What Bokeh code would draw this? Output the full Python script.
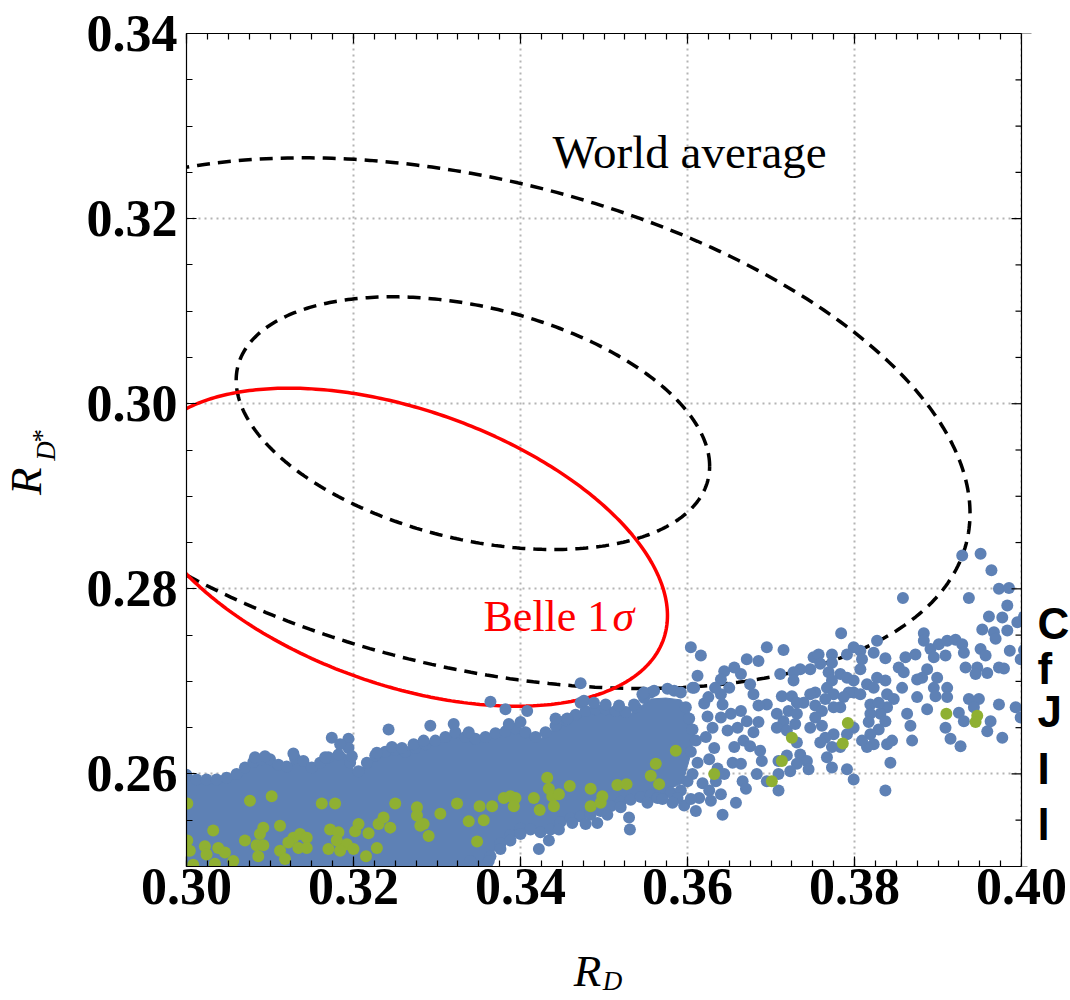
import numpy as np
from bokeh.plotting import figure
from bokeh.models import (Range1d, SingleIntervalTicker, PrintfTickFormatter, LinearAxis, Label,
                          BoxAnnotation, Span)
from bokeh.layouts import row, column
from bokeh.embed import file_html
from bokeh.resources import INLINE

# ---------------- data ----------------
x_lim = (0.30, 0.40)
y_lim = (0.25, 0.34)
x_major, x_minor_n = 0.02, 8
y_major, y_minor_n = 0.02, 4
y_major_ticks = [0.26, 0.28, 0.30, 0.32, 0.34]

# World average contours: centre, widths, correlation, contour scale factors
wa_center = (0.3343, 0.2979)
wa_sigma = (0.02835, 0.01365)
wa_rho = -0.34
wa_levels = [1.0, 2.1]

# Belle 1 sigma contour
belle_center = (0.3259, 0.2845)
belle_sigma = (0.0317, 0.01718)
belle_rho = -0.43
belle_level = 1.0

# saturated core of the blue scan points (envelope of overlapping points)
core_outline = [
    (0.2990, 0.2598), (0.3017, 0.2593), (0.3041, 0.2593), (0.3065, 0.2603), (0.3083, 0.2615),
    (0.3101, 0.2615), (0.3116, 0.2605), (0.3131, 0.2616), (0.3152, 0.2605), (0.3172, 0.2618),
    (0.3190, 0.2622), (0.3202, 0.2600), (0.3224, 0.2618), (0.3248, 0.2626), (0.3272, 0.2627),
    (0.3304, 0.2637), (0.3322, 0.2646), (0.3340, 0.2638), (0.3372, 0.2643), (0.3400, 0.2649),
    (0.3424, 0.2638), (0.3448, 0.2654), (0.3472, 0.2666), (0.3499, 0.2669), (0.3532, 0.2665),
    (0.3556, 0.2681), (0.3574, 0.2682), (0.3592, 0.2680), (0.3604, 0.2664), (0.3608, 0.2640),
    (0.3602, 0.2615), (0.3594, 0.2590),
    (0.3568, 0.2580), (0.3552, 0.2575), (0.3520, 0.2570),
    (0.3504, 0.2564), (0.3478, 0.2554), (0.3448, 0.2549), (0.3434, 0.2536), (0.3400, 0.2542),
    (0.3388, 0.2534), (0.3376, 0.2525), (0.3364, 0.2511), (0.3352, 0.2493), (0.2990, 0.2493),
]

blue_edge = [
    (0.3000, 0.2599), (0.3012, 0.2594), (0.3024, 0.2594), (0.3036, 0.2594), (0.3048, 0.2596),
    (0.3060, 0.2600), (0.3070, 0.2607), (0.3080, 0.2613), (0.3090, 0.2616), (0.3100, 0.2616),
    (0.3110, 0.2610), (0.3120, 0.2608), (0.3130, 0.2617), (0.3140, 0.2614), (0.3150, 0.2607),
    (0.3160, 0.2612), (0.3170, 0.2618), (0.3182, 0.2621), (0.3196, 0.2612), (0.3206, 0.2603),
    (0.3216, 0.2612), (0.3226, 0.2620), (0.3238, 0.2624), (0.3250, 0.2626), (0.3262, 0.2624),
    (0.3274, 0.2628), (0.3286, 0.2632), (0.3298, 0.2636), (0.3310, 0.2640), (0.3322, 0.2645),
    (0.3334, 0.2640), (0.3346, 0.2638), (0.3358, 0.2640), (0.3370, 0.2644), (0.3382, 0.2646),
    (0.3394, 0.2649), (0.3406, 0.2645), (0.3418, 0.2640), (0.3430, 0.2645), (0.3442, 0.2652),
    (0.3454, 0.2658), (0.3466, 0.2664), (0.3478, 0.2668), (0.3490, 0.2670), (0.3502, 0.2670),
    (0.3514, 0.2668), (0.3526, 0.2667), (0.3538, 0.2672), (0.3548, 0.2682),
    (0.3352, 0.2500), (0.3364, 0.2511), (0.3376, 0.2525), (0.3388, 0.2534), (0.3400, 0.2541),
    (0.3412, 0.2540), (0.3424, 0.2537), (0.3436, 0.2540), (0.3448, 0.2548), (0.3460, 0.2552),
    (0.3472, 0.2554), (0.3484, 0.2556), (0.3496, 0.2560), (0.3508, 0.2565), (0.3520, 0.2570),
    (0.3532, 0.2572), (0.3544, 0.2575), (0.3556, 0.2577), (0.3568, 0.2580), (0.3580, 0.2580),
    (0.3592, 0.2582), (0.3598, 0.2672), (0.3602, 0.2660), (0.3606, 0.2648), (0.3610, 0.2636),
    (0.3604, 0.2624), (0.3612, 0.2612), (0.3606, 0.2600), (0.3618, 0.2590), (0.3600, 0.2592),
    (0.3620, 0.2676), (0.3624, 0.2662), (0.3630, 0.2650), (0.3622, 0.2640), (0.3632, 0.2628),
    (0.3626, 0.2616), (0.3636, 0.2606), (0.3614, 0.2574), (0.3626, 0.2582), (0.3596, 0.2566),
    (0.3610, 0.2560), (0.3588, 0.2574),
]

blue_upper = [
    (0.3174, 0.2639), (0.3194, 0.2638), (0.3194, 0.2628), (0.3242, 0.2648), (0.3246, 0.2629),
    (0.3082, 0.2618), (0.3094, 0.2619), (0.3128, 0.2622), (0.3166, 0.2618), (0.3184, 0.2632),
    (0.3198, 0.2619), (0.3228, 0.2623), (0.3258, 0.2628), (0.3272, 0.2632), (0.3284, 0.2636),
    (0.3292, 0.2652), (0.3320, 0.2654), (0.3338, 0.2645), (0.3364, 0.2678), (0.3382, 0.2670),
    (0.3408, 0.2668), (0.3400, 0.2656), (0.3386, 0.2654), (0.3442, 0.2660), (0.3456, 0.2660),
    (0.3472, 0.2677), (0.3476, 0.2679), (0.3488, 0.2677), (0.3502, 0.2675), (0.3518, 0.2674),
    (0.3536, 0.2675), (0.3546, 0.2686), (0.3556, 0.2688), (0.3472, 0.2698), (0.3548, 0.2688),
    (0.3560, 0.2690), (0.3576, 0.2692), (0.3584, 0.2690), (0.3592, 0.2688), (0.3608, 0.2693),
]

blue_lower = [
    (0.3340, 0.2506), (0.3362, 0.2506), (0.3376, 0.2519), (0.3422, 0.2519), (0.3434, 0.2528),
    (0.3446, 0.2540), (0.3462, 0.2547), (0.3478, 0.2546), (0.3492, 0.2547), (0.3504, 0.2556),
    (0.3530, 0.2553), (0.3531, 0.2540), (0.3520, 0.2564), (0.3552, 0.2569), (0.3564, 0.2574),
    (0.3400, 0.2535), (0.3388, 0.2528),
]

blue_tail = [
    (0.3784, 0.2752), (0.3858, 0.2790), (0.3929, 0.2836), (0.3951, 0.2838), (0.3964, 0.2820),
    (0.3973, 0.2800), (0.3985, 0.2801), (0.3937, 0.2790), (0.3983, 0.2782), (0.3961, 0.2770),
    (0.3977, 0.2769), (0.3995, 0.2764), (0.3953, 0.2756), (0.3967, 0.2753), (0.3983, 0.2755),
    (0.3969, 0.2746), (0.3986, 0.2733), (0.3951, 0.2735), (0.3957, 0.2728), (0.3999, 0.2724),
    (0.3933, 0.2715), (0.3947, 0.2715), (0.3973, 0.2715), (0.3979, 0.2714), (0.3945, 0.2708),
    (0.3959, 0.2709), (0.3883, 0.2752), (0.3883, 0.2744), (0.3891, 0.2735), (0.3901, 0.2740),
    (0.3911, 0.2744), (0.3921, 0.2745), (0.3929, 0.2740), (0.3931, 0.2731), (0.3909, 0.2728),
    (0.3895, 0.2726), (0.3887, 0.2713), (0.3881, 0.2704), (0.3899, 0.2704), (0.3895, 0.2693),
    (0.3911, 0.2693), (0.3875, 0.2683), (0.3897, 0.2684), (0.3911, 0.2683), (0.3887, 0.2670),
    (0.3937, 0.2681), (0.3949, 0.2681), (0.3943, 0.2672), (0.3973, 0.2675), (0.3993, 0.2672),
    (0.3925, 0.2666), (0.3931, 0.2657), (0.3963, 0.2657), (0.3999, 0.2661), (0.3909, 0.2650),
    (0.3915, 0.2638), (0.3927, 0.2630), (0.3959, 0.2646), (0.3977, 0.2639), (0.3861, 0.2726),
    (0.3873, 0.2729), (0.3853, 0.2715), (0.3859, 0.2710), (0.3875, 0.2702), (0.3857, 0.2693),
    (0.3863, 0.2665), (0.3867, 0.2652), (0.3869, 0.2636), (0.3837, 0.2701), (0.3839, 0.2686),
    (0.3847, 0.2681), (0.3839, 0.2672), (0.3831, 0.2665), (0.3837, 0.2657), (0.3829, 0.2648),
    (0.3819, 0.2643), (0.3823, 0.2632), (0.3839, 0.2632), (0.3845, 0.2636), (0.3843, 0.2612),
    (0.3837, 0.2582), (0.3827, 0.2744), (0.3823, 0.2731), (0.3837, 0.2725), (0.3827, 0.2704),
    (0.3815, 0.2697), (0.3823, 0.2693), (0.3819, 0.2675), (0.3829, 0.2677), (0.3819, 0.2665),
    (0.3817, 0.2656), (0.3815, 0.2629), (0.3809, 0.2636), (0.3807, 0.2733), (0.3799, 0.2737),
    (0.3791, 0.2729), (0.3809, 0.2724), (0.3807, 0.2713), (0.3783, 0.2708), (0.3791, 0.2704),
    (0.3799, 0.2701), (0.3799, 0.2688), (0.3793, 0.2688), (0.3807, 0.2686), (0.3787, 0.2683),
    (0.3783, 0.2672), (0.3775, 0.2672), (0.3799, 0.2650), (0.3791, 0.2643), (0.3775, 0.2643),
    (0.3783, 0.2629), (0.3773, 0.2629), (0.3767, 0.2618), (0.3773, 0.2607), (0.3791, 0.2605),
    (0.3799, 0.2594), (0.3751, 0.2726), (0.3757, 0.2729), (0.3747, 0.2713), (0.3759, 0.2719),
    (0.3773, 0.2729), (0.3773, 0.2720), (0.3769, 0.2710), (0.3773, 0.2701), (0.3767, 0.2693),
    (0.3775, 0.2686), (0.3765, 0.2681), (0.3753, 0.2688), (0.3747, 0.2686), (0.3739, 0.2677),
    (0.3753, 0.2674), (0.3761, 0.2668), (0.3753, 0.2661), (0.3761, 0.2652), (0.3747, 0.2650),
    (0.3765, 0.2639), (0.3759, 0.2634), (0.3735, 0.2713), (0.3727, 0.2710), (0.3727, 0.2701),
    (0.3711, 0.2708), (0.3713, 0.2684), (0.3725, 0.2684), (0.3731, 0.2677), (0.3721, 0.2668),
    (0.3731, 0.2665), (0.3715, 0.2657), (0.3707, 0.2650), (0.3719, 0.2647), (0.3729, 0.2654),
    (0.3731, 0.2634), (0.3735, 0.2621), (0.3743, 0.2614), (0.3731, 0.2611), (0.3745, 0.2605),
    (0.3719, 0.2620), (0.3709, 0.2614), (0.3709, 0.2600), (0.3723, 0.2603), (0.3695, 0.2737),
    (0.3715, 0.2734), (0.3709, 0.2582), (0.3695, 0.2592), (0.3683, 0.2600), (0.3689, 0.2614),
    (0.3671, 0.2724), (0.3685, 0.2722), (0.3664, 0.2708), (0.3656, 0.2715), (0.3644, 0.2711),
    (0.3640, 0.2702), (0.3650, 0.2693), (0.3640, 0.2686), (0.3675, 0.2697), (0.3679, 0.2686),
    (0.3695, 0.2675), (0.3685, 0.2674), (0.3707, 0.2665), (0.3664, 0.2668), (0.3652, 0.2665),
    (0.3642, 0.2675), (0.3640, 0.2661), (0.3671, 0.2657), (0.3685, 0.2656), (0.3660, 0.2650),
    (0.3648, 0.2647), (0.3679, 0.2645), (0.3667, 0.2636), (0.3656, 0.2629), (0.3675, 0.2630),
    (0.3687, 0.2625), (0.3654, 0.2612), (0.3664, 0.2611), (0.3666, 0.2592), (0.3644, 0.2600),
    (0.3634, 0.2592), (0.3670, 0.2584), (0.3640, 0.2578), (0.3658, 0.2569), (0.3642, 0.2556),
    (0.3628, 0.2571), (0.3604, 0.2573), (0.3582, 0.2569), (0.3570, 0.2573), (0.3604, 0.2737),
    (0.3616, 0.2728), (0.3612, 0.2706), (0.3606, 0.2693), (0.3625, 0.2683), (0.3633, 0.2693),
    (0.4003, 0.2770), (0.4003, 0.2734), (0.4005, 0.2671),
]

green_pts = [
    (0.3001, 0.2568), (0.3076, 0.2571), (0.3102, 0.2576), (0.3162, 0.2568), (0.3178, 0.2568),
    (0.3250, 0.2568), (0.3276, 0.2564), (0.3032, 0.2539), (0.3070, 0.2528), (0.3088, 0.2535),
    (0.3092, 0.2542), (0.3112, 0.2544), (0.3084, 0.2523), (0.3092, 0.2523), (0.3086, 0.2511),
    (0.3128, 0.2531), (0.3136, 0.2535), (0.3144, 0.2531), (0.3122, 0.2526), (0.3134, 0.2520),
    (0.3144, 0.2520), (0.3112, 0.2517), (0.3118, 0.2508), (0.3172, 0.2540), (0.3182, 0.2537),
    (0.3180, 0.2528), (0.3192, 0.2524), (0.3170, 0.2519), (0.3184, 0.2517), (0.3200, 0.2519),
    (0.3202, 0.2538), (0.3206, 0.2546), (0.3218, 0.2536), (0.3230, 0.2546), (0.3236, 0.2553),
    (0.3244, 0.2542), (0.3228, 0.2520), (0.3215, 0.2511), (0.3276, 0.2555), (0.3280, 0.2544),
    (0.3004, 0.2517), (0.3022, 0.2522), (0.3024, 0.2513), (0.3038, 0.2520), (0.3046, 0.2515),
    (0.3034, 0.2503), (0.3056, 0.2506), (0.3008, 0.2502), (0.3001, 0.2528), (0.3284, 0.2546),
    (0.3290, 0.2533), (0.3304, 0.2557), (0.3324, 0.2568), (0.3338, 0.2549), (0.3351, 0.2565),
    (0.3356, 0.2550), (0.3366, 0.2565), (0.3348, 0.2527), (0.3380, 0.2574), (0.3388, 0.2576),
    (0.3394, 0.2574), (0.3392, 0.2565), (0.3416, 0.2574), (0.3423, 0.2561), (0.3432, 0.2596),
    (0.3434, 0.2584), (0.3438, 0.2576), (0.3446, 0.2578), (0.3440, 0.2565), (0.3459, 0.2587),
    (0.3484, 0.2584), (0.3484, 0.2565), (0.3496, 0.2569), (0.3498, 0.2576), (0.3516, 0.2588),
    (0.3527, 0.2589), (0.3556, 0.2598), (0.3562, 0.2611), (0.3566, 0.2589), (0.3586, 0.2625),
    (0.3632, 0.2600), (0.3701, 0.2592), (0.3713, 0.2614), (0.3725, 0.2639), (0.3786, 0.2633),
    (0.3792, 0.2655), (0.3910, 0.2665), (0.3947, 0.2663), (0.3945, 0.2656),
]

# first letters of a neighbouring text at the right edge of the picture
edge_letters = ["C", "f", "J", "I", "l"]
edge_letter_y = [0.27622, 0.27135, 0.26670, 0.26054, 0.25459]

# ---------------- styling ----------------
BLUE = "#5e81b5"
GREEN = "#8fb032"
SERIF = "Liberation Serif"

FRAME_W, FRAME_H = 835, 833
RIGHT_PAD = 49                      # picture continues 49 px right of the frame
px_per_x = FRAME_W / (x_lim[1] - x_lim[0])
x_view_end = x_lim[1] + RIGHT_PAD / px_per_x
BOTTOM_BORDER = 64
MAIN_H = 33 + FRAME_H + BOTTOM_BORDER

main = figure(frame_width=FRAME_W + RIGHT_PAD, frame_height=FRAME_H,
              min_border_left=116, min_border_right=0, min_border_top=33,
              min_border_bottom=BOTTOM_BORDER,
              x_range=Range1d(x_lim[0], x_view_end), y_range=Range1d(*y_lim),
              output_backend="svg", toolbar_location=None,
              background_fill_color="white", border_fill_color="white")
main.outline_line_color = None


def style_axis(ax, ticker, show_labels, bounds=None):
    ax.ticker = ticker
    if bounds is not None:
        ax.bounds = bounds
    ax.axis_line_color = "black"
    ax.axis_line_width = 1.2
    ax.major_tick_in = 10
    ax.major_tick_out = 0
    ax.minor_tick_in = 6
    ax.minor_tick_out = 0
    ax.major_tick_line_color = "black"
    ax.minor_tick_line_color = "black"
    ax.major_tick_line_width = 1.2
    ax.minor_tick_line_width = 1.2
    if show_labels:
        ax.formatter = PrintfTickFormatter(format="%.2f")
        ax.major_label_text_font = SERIF
        ax.major_label_text_font_style = "bold"
        ax.major_label_text_font_size = "52px"
        ax.major_label_text_color = "black"
    else:
        ax.major_label_text_color = None


style_axis(main.xaxis[0], SingleIntervalTicker(interval=x_major, num_minor_ticks=x_minor_n), True, x_lim)
style_axis(main.yaxis[0], SingleIntervalTicker(interval=y_major, num_minor_ticks=y_minor_n), True)
main.xaxis[0].major_label_standoff = 2
main.yaxis[0].major_label_standoff = 9

top_ax = LinearAxis()
style_axis(top_ax, SingleIntervalTicker(interval=x_major, num_minor_ticks=x_minor_n), False, x_lim)
main.add_layout(top_ax, "above")

for g in (main.xgrid[0], main.ygrid[0]):
    g.grid_line_color = "#b4b4b4"
    g.grid_line_dash = "2 4"
    g.grid_line_width = 2


def contour(center, sigma, rho, k, n=400):
    t = np.linspace(0.0, 2.0 * np.pi, n)
    u = np.cos(t)
    v = rho * np.cos(t) + np.sqrt(1.0 - rho ** 2) * np.sin(t)
    return center[0] + k * sigma[0] * u, center[1] + k * sigma[1] * v


# contour lines
for k in wa_levels:
    ex, ey = contour(wa_center, wa_sigma, wa_rho, k)
    main.line(ex, ey, line_color="black", line_width=3.5, line_dash="13 8")
bx, by = contour(belle_center, belle_sigma, belle_rho, belle_level)
main.line(bx, by, line_color="#ff0000", line_width=3.5)

# scan points
cx, cy = zip(*core_outline)
main.patch(list(cx), list(cy), fill_color=BLUE, line_color=BLUE, line_width=1)
blue_all = blue_edge + blue_upper + blue_lower + blue_tail
bpx, bpy = zip(*blue_all)
main.scatter(list(bpx), list(bpy), size=12, fill_color=BLUE, line_color=None)
gx, gy = zip(*green_pts)
main.scatter(list(gx), list(gy), size=12, fill_color=GREEN, line_color=None)

# right edge of the frame: inward ticks (half of each dash is hidden by the margin box)
y_step = y_major / y_minor_n
y_all_ticks = [round(y_lim[0] + i * y_step, 4) for i in range(int(round((y_lim[1] - y_lim[0]) / y_step)) + 1)]
y_minor_ticks = [t for t in y_all_ticks if t not in y_major_ticks]
main.scatter([x_lim[1]] * len(y_major_ticks), y_major_ticks, marker="dash", size=20,
             line_color="black", line_width=1.2)
main.scatter([x_lim[1]] * len(y_minor_ticks), y_minor_ticks, marker="dash", size=12,
             line_color="black", line_width=1.2)

# white margin right of the frame, then the frame's right edge
main.add_layout(BoxAnnotation(left=x_lim[1], fill_color="white", fill_alpha=1.0, line_color=None))
main.add_layout(Span(location=x_lim[1], dimension="height", line_color="black", line_width=1.2))

# annotations inside the frame (vertically centred on the capitals)
main.add_layout(Label(x=0.34383, y=0.32724, text="World average", text_font=SERIF,
                      text_font_size="47px", text_color="black", text_baseline="middle"))
main.add_layout(Label(x=0.33557, y=0.27697, text="Belle 1", text_font=SERIF,
                      text_font_size="44px", text_color="#ff0000", text_baseline="middle"))
main.add_layout(Label(x=0.35102, y=0.27697, text="σ", text_font=SERIF, text_font_style="italic",
                      text_font_size="44px", text_color="#ff0000", text_baseline="middle"))

for t, yy in zip(edge_letters, edge_letter_y):
    main.add_layout(Label(x=x_lim[1] + 16 / px_per_x, y=yy, text=t, text_font="Liberation Sans",
                          text_font_style="bold", text_font_size="44px", text_color="black",
                          text_baseline="middle"))


def blank(width, height, xr, yr):
    f = figure(width=width, height=height, x_range=Range1d(*xr), y_range=Range1d(*yr),
               x_axis_type=None, y_axis_type=None, output_backend="svg", toolbar_location=None,
               min_border=0, background_fill_color="white", border_fill_color="white")
    f.outline_line_color = None
    f.grid.visible = False
    return f


def title_text(f, x, y, text, size, style="italic", angle=0.0):
    f.add_layout(Label(x=x, y=y, text=text, text_font=SERIF, text_font_style=style,
                       text_font_size=size, text_color="black", text_align="center",
                       text_baseline="middle", angle=angle))


# strip left of the main plot: y-axis title (pixel coordinates, y downwards)
left_strip = blank(70, MAIN_H, (0, 70), (MAIN_H, 0))
title_text(left_strip, 25, 500, "R", "45px", angle=np.pi / 2)
title_text(left_strip, 45, 466, "D", "27px", angle=np.pi / 2)
title_text(left_strip, 41, 449, "*", "27px", style="normal", angle=np.pi / 2)

# strip below: x-axis title
bottom_strip = blank(1070, 1000 - MAIN_H, (0, 1070), (1000, MAIN_H))
title_text(bottom_strip, 587, 970, "R", "45px")
title_text(bottom_strip, 612, 980, "D", "27px")

layout = column(row(left_strip, main), bottom_strip)
open("out.html", "w").write(file_html(layout, INLINE))
